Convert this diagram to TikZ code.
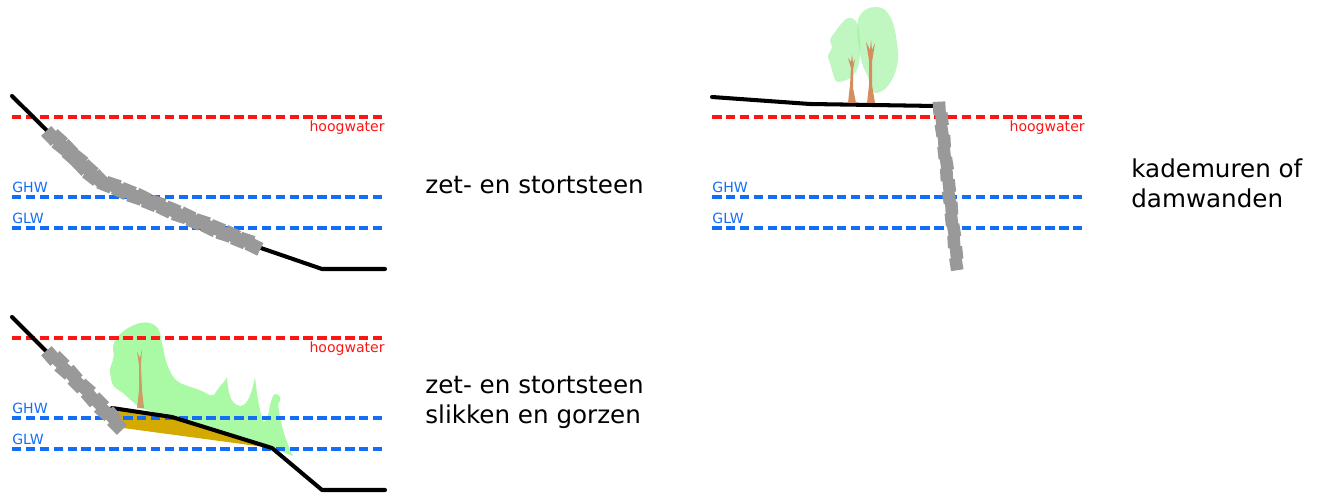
\documentclass[tikz,border=0pt]{standalone}
\usepackage{fontspec}
\setmainfont{DejaVu Sans}
\usepackage{tikz}
\usetikzlibrary{calc}
\definecolor{peilrood}{RGB}{255,20,20}
\definecolor{peilblauw}{RGB}{20,110,245}
\definecolor{steengrijs}{RGB}{153,153,153}
\definecolor{slibgeel}{RGB}{212,170,0}
\definecolor{rietgroen}{RGB}{170,250,165}
\definecolor{kruingroen}{RGB}{150,240,150}
\definecolor{stambruin}{RGB}{211,141,95}

\begin{document}
\begin{tikzpicture}[
        x=0.02cm, y=-0.02cm,
        peil/.style={line width=1.9pt, dash pattern=on 5.4pt off 2.5pt},
        peillabel/.style={font=\fontsize{8}{9}\selectfont, inner sep=0pt},
        grond/.style={line width=2.3pt, line join=round, line cap=round},
        steen/.style={fill=steengrijs},
        kruin/.style={fill=kruingroen, fill opacity=0.6},
        uitleg/.style={font=\fontsize{14}{17}\selectfont, align=left, anchor=west, inner sep=0pt}
    ]
    \useasboundingbox (0,0) rectangle (1317,493);

    % begroeiing op de slikken
    \fill[rietgroen] (140,408) -- (133,402) -- (123,393) .. controls (112,386) .. (110,372)
        .. controls (110,362) and (116,360) .. (113,350) .. controls (112,340) and (122,330) .. (134,325)
        .. controls (145,320) and (157,322) .. (160,333) .. controls (163,345) and (164,362) .. (172,375)
        .. controls (178,386) and (192,386) .. (204,392) .. controls (210,396) and (214,397) .. (216,392)
        .. controls (220,385) and (225,382) .. (227,377) .. controls (228,392) and (230,404) .. (240,406)
        .. controls (248,406) and (252,392) .. (255,377) .. controls (257,395) and (259,408) .. (262,418)
        .. controls (264,426) and (268,420) .. (270,405) .. controls (272,398) and (273,394) .. (276,394)
        .. controls (282,396) and (281,400) .. (278,404) .. controls (280,420) and (284,438) .. (293,456)
        -- (272,448) -- (172,417) -- cycle;

    % bomen achter de kade
    \fill[kruin] plot[smooth cycle, tension=0.6] coordinates {
        (842,23) (848,18) (855,20) (859,30) (860,50) (858,67) (850,78) (838,82) (834,77)
        (830,63) (828,56) (832,47) (830,40) (835,32)};
    \fill[kruin] plot[smooth cycle, tension=0.6] coordinates {
        (858,20) (865,10) (875,7) (885,10) (893,23) (897,43) (898,58) (895,73) (887,87)
        (877,93) (872,90) (868,77) (862,63) (858,40)};

    % slib tussen de twee taluds
    \fill[slibgeel] (112,407) -- (172,416) -- (272,448) -- (123,428) -- cycle;

    % waterstanden per paneel
    \foreach \dx/\dy/\p in {0/0/a, 700/0/b, 0/221/c} {
        \begin{scope}[shift={(\dx,\dy)}]
            \draw[peil, peilrood] (12,117) -- (385,117);
            \draw[peil, peilblauw] (12,197) -- (385,197);
            \draw[peil, peilblauw] (12,228) -- (385,228);
            \node[peillabel, text=peilrood, anchor=base east] (hw\p) at (385,131.5) {hoogwater};
            \node[peillabel, text=peilblauw, anchor=base west] (ghw\p) at (12,192.5) {GHW};
            \node[peillabel, text=peilblauw, anchor=base west] (glw\p) at (12,223) {GLW};
        \end{scope}
    }

    % dwarsprofielen
    \draw[grond] (12,96) -- (100,183) -- (258,247) -- (322,269) -- (385,269);
    \draw[grond] (712,97) -- (810,104) -- (936,106);
    \draw[grond] (12,317) -- (100,405);
    \draw[grond] (112,408) -- (172,417) -- (272,448) -- (322,490) -- (385,490);

    % stortsteen langs het talud
    \foreach \i in {0,...,9}
        \fill[steen, shift={($(52,135)!{\i/9}!(98,180) + ({mod(\i,2)*2-1},{1-mod(\i,2)*2})$)},
            rotate={-42+4*(mod(\i,3)-1)}] (-7,-7) rectangle (7,7);
    \foreach \i in {1,...,21}
        \fill[steen, shift={($(98,180)!{\i/21}!(254,245) + (0,{mod(\i,2)*2.5-1.25})$)},
            rotate={-22+4*(mod(\i,3)-1)}] (-7,-7) rectangle (7,7);
    \foreach \i in {0,...,10}
        \fill[steen, shift={($(52,355)!{\i/10}!(118,424) + ({mod(\i,2)*2-1},{1-mod(\i,2)*2})$)},
            rotate={-45+4*(mod(\i,3)-1)}] (-7,-7) rectangle (7,7);

    % damwand
    \foreach \i in {0,...,14}
        \fill[steen, shift={($(940,108)!{\i/14}!(957,264) + ({mod(\i,2)*1.4-0.7},0)$)},
            rotate={6+3*(mod(\i,3)-1)}] (-6.3,-6.3) rectangle (6.3,6.3);

    % stammen
    \fill[stambruin] (848,103) -- (850,85) -- (851,68) -- (848,58) -- (851,62) -- (852,55)
        -- (853,63) -- (855,59) -- (853,70) -- (853,88) -- (856,103) -- cycle;
    \fill[stambruin] (867,103) -- (869,85) -- (869,60) -- (866,42) -- (870,50) -- (871,40)
        -- (872,50) -- (875,43) -- (872,62) -- (872,85) -- (875,103) -- cycle;
    \fill[stambruin, opacity=0.85] (137,408) -- (139,390) -- (139,365) -- (137,352) -- (140,358)
        -- (142,349) -- (141,365) -- (142,390) -- (144,408) -- cycle;

    % omschrijvingen
    \node[uitleg] (zet) at (425,185) {zet- en stortsteen};
    \node[uitleg] (kade) at (1131,183) {kademuren of\\damwanden};
    \node[uitleg] (slik) at (425,402) {zet- en stortsteen\\slikken en gorzen};
\end{tikzpicture}
\end{document}
